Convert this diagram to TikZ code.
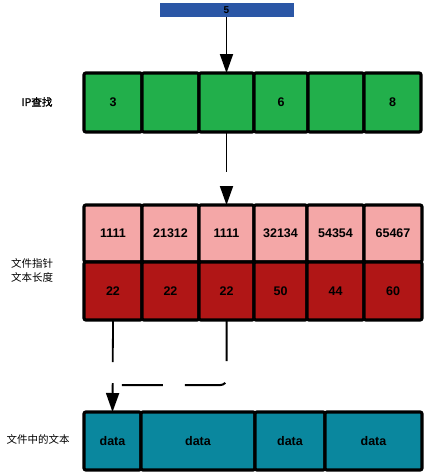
\documentclass[tikz,border=0pt]{standalone}
\usepackage{fontspec}
\setmainfont{Liberation Sans}
\newfontfamily\cjk[AutoFakeBold=1.5]{Noto Sans CJK SC}
\usetikzlibrary{arrows.meta}
\definecolor{barblue}{HTML}{2B57A6}
\definecolor{cgreen}{HTML}{22AF4B}
\definecolor{cpink}{HTML}{F4A7A7}
\definecolor{cred}{HTML}{B01616}
\definecolor{cteal}{HTML}{0A879E}
\begin{document}
\begin{tikzpicture}[x=1pt,y=-1pt,
  cell/.style={draw=black, line width=3.2pt, rounded corners=2pt, inner sep=0pt, outer sep=0pt, anchor=north west,
    font=\bfseries\fontsize{12.5}{14}\selectfont},
  lbl/.style={font=\cjk\fontsize{10.5}{14}\selectfont, align=left, inner sep=0pt},
  conn/.style={line width=1.8pt, -{Triangle[length=19pt,width=13pt]}},
  dconn/.style={line width=2pt, dash pattern=on 41pt off 22pt, rounded corners=6pt}]
\useasboundingbox (0,0) rectangle (424,474);
% top bar
\node[fill=barblue, minimum width=134pt, minimum height=14pt, inner sep=0pt, outer sep=0pt, font=\bfseries\fontsize{10}{11}\selectfont] (bar) at (226.5,10) {5};
% green row
\node[cell, fill=cgreen, minimum width=58pt, minimum height=59pt] (g1) at (84,73) {3};
\node[cell, fill=cgreen, minimum width=57pt, minimum height=59pt] (g2) at (142,73) {};
\node[cell, fill=cgreen, minimum width=55pt, minimum height=59pt] (g3) at (199,73) {};
\node[cell, fill=cgreen, minimum width=54pt, minimum height=59pt] (g4) at (254,73) {6};
\node[cell, fill=cgreen, minimum width=56pt, minimum height=59pt] (g5) at (308,73) {};
\node[cell, fill=cgreen, minimum width=57pt, minimum height=59pt] (g6) at (364,73) {8};
% pink row
\node[cell, fill=cpink, minimum width=58pt, minimum height=57pt] (p1) at (84,205) {1111};
\node[cell, fill=cpink, minimum width=57pt, minimum height=57pt] (p2) at (142,205) {21312};
\node[cell, fill=cpink, minimum width=55pt, minimum height=57pt] (p3) at (199,205) {1111};
\node[cell, fill=cpink, minimum width=53pt, minimum height=57pt] (p4) at (254,205) {32134};
\node[cell, fill=cpink, minimum width=57pt, minimum height=57pt] (p5) at (307,205) {54354};
\node[cell, fill=cpink, minimum width=58pt, minimum height=57pt] (p6) at (364,205) {65467};
% red row
\node[cell, fill=cred, minimum width=58pt, minimum height=58pt] (r1) at (84,262) {22};
\node[cell, fill=cred, minimum width=57pt, minimum height=58pt] (r2) at (142,262) {22};
\node[cell, fill=cred, minimum width=55pt, minimum height=58pt] (r3) at (199,262) {22};
\node[cell, fill=cred, minimum width=53pt, minimum height=58pt] (r4) at (254,262) {50};
\node[cell, fill=cred, minimum width=57pt, minimum height=58pt] (r5) at (307,262) {44};
\node[cell, fill=cred, minimum width=58pt, minimum height=58pt] (r6) at (364,262) {60};
% teal row
\node[cell, fill=cteal, minimum width=57pt, minimum height=58pt] (t1) at (84,412) {data};
\node[cell, fill=cteal, minimum width=114pt, minimum height=58pt] (t2) at (141,412) {data};
\node[cell, fill=cteal, minimum width=70pt, minimum height=58pt] (t3) at (255,412) {data};
\node[cell, fill=cteal, minimum width=97pt, minimum height=58pt] (t4) at (325,412) {data};
% labels
\node[lbl, font=\cjk\bfseries\fontsize{10.5}{14}\selectfont] (l1) at (37,102) {IP查找};
\node[lbl] (l2) at (32,270) {文件指针\\文本长度};
\node[lbl] (l3) at (38,439) {文件中的文本};
% connectors
\draw[conn] (bar.south) -- (g3.north);
\draw[conn, dash pattern=on 40pt off 14pt] (g3.south) -- (p3.north);
\draw[conn, dash pattern=on 42pt off 21pt] (r1.south) -- (t1.north);
\coordinate (j) at (119,385);
\draw[dconn] (r3.south) |- (j);
\end{tikzpicture}
\end{document}
